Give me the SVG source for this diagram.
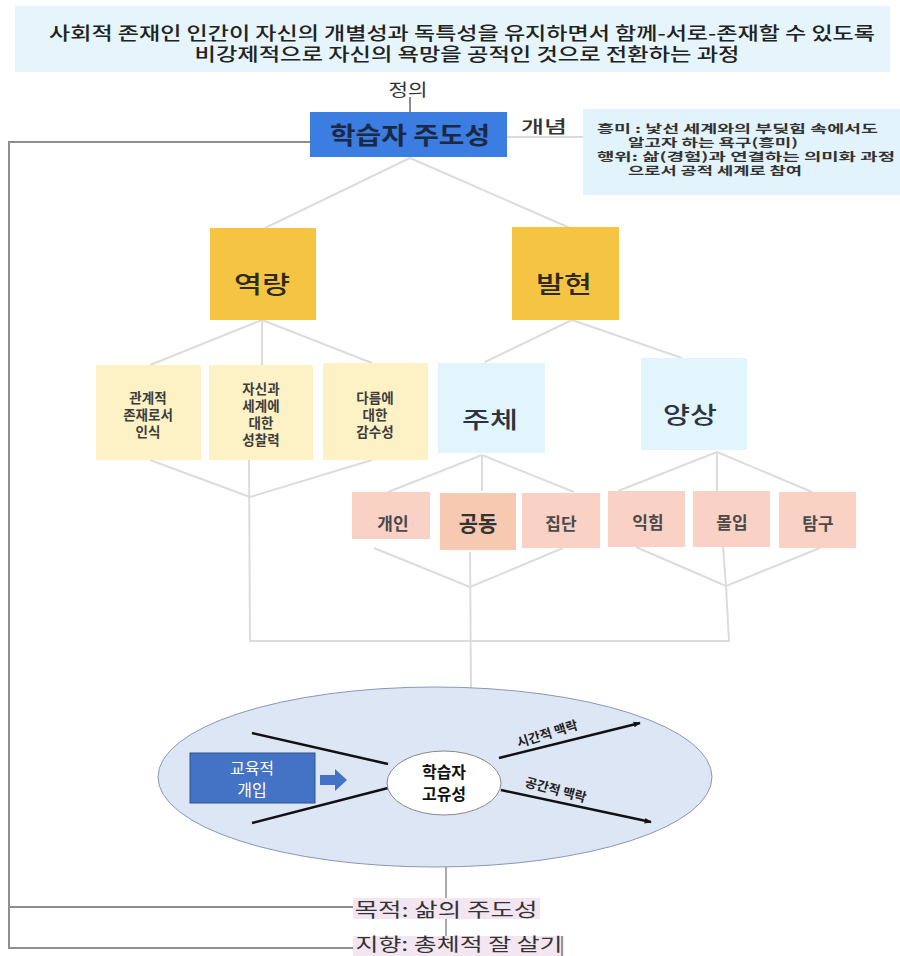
<svg xmlns="http://www.w3.org/2000/svg" width="900" height="956" viewBox="0 0 900 956">
<defs>
<style>
text{font-family:"Noto Sans CJK KR","Noto Sans",sans-serif;dominant-baseline:central;text-anchor:middle}
.conn{stroke:#dcdcdc;stroke-width:2;fill:none}
.dark{stroke:#8e8e8e;stroke-width:2;fill:none}
.blk{stroke:#111;stroke-width:2.5;fill:none}
.y3{fill:#fdf1c6}
.b3{fill:#e3f5fc}
.p4{fill:#f9d1c5}
.t3{font-size:13.5px;font-weight:bold;fill:#3d3d3d}
.t4{font-size:17px;font-weight:bold;fill:#4a4a4a}
.big{font-size:24px;font-weight:500;fill:#2e2a20}
.sub{font-size:23px;font-weight:500;fill:#2b3440}
.ct{font-size:11.5px;font-weight:bold;fill:#333;text-anchor:start}
.lbl{font-size:13px;font-weight:bold;fill:#222}
</style>
<marker id="ah" viewBox="0 0 10 10" refX="9" refY="5" markerWidth="7" markerHeight="7" orient="auto" markerUnits="userSpaceOnUse">
<path d="M0,1 L10,5 L0,9 z" fill="#111"/>
</marker>
</defs>
<rect width="900" height="956" fill="#fff"/>

<g id="connectors">
<line class="dark" x1="410" y1="97" x2="410" y2="113"/>
<line class="conn" x1="505" y1="137" x2="583" y2="137" style="stroke:#cfcfcf;stroke-width:1.5"/>
<polyline class="dark" points="310,142 9,142 9,948 353,948"/>
<line class="dark" x1="9" y1="907" x2="353" y2="907"/>
<line class="conn" x1="410" y1="158" x2="265" y2="228"/>
<line class="conn" x1="410" y1="158" x2="570" y2="228"/>
<line class="conn" x1="262" y1="320" x2="150" y2="365"/>
<line class="conn" x1="262" y1="320" x2="262" y2="365"/>
<line class="conn" x1="262" y1="320" x2="372" y2="363"/>
<line class="conn" x1="572" y1="320" x2="485" y2="362"/>
<line class="conn" x1="572" y1="320" x2="682" y2="358"/>
<line class="conn" x1="150" y1="460" x2="250" y2="497"/>
<line class="conn" x1="372" y1="460" x2="250" y2="497"/>
<polyline class="conn" points="249,460 250,641 729,641 726,586"/>
<line class="conn" x1="482" y1="455" x2="388" y2="492"/>
<line class="conn" x1="482" y1="455" x2="482" y2="493"/>
<line class="conn" x1="482" y1="455" x2="574" y2="492"/>
<line class="conn" x1="717" y1="452" x2="618" y2="491"/>
<line class="conn" x1="717" y1="452" x2="717" y2="491"/>
<line class="conn" x1="717" y1="452" x2="812" y2="492"/>
<line class="conn" x1="374" y1="548" x2="470" y2="587"/>
<line class="conn" x1="563" y1="548" x2="470" y2="587"/>
<line class="conn" x1="470" y1="550" x2="471" y2="690"/>
<line class="conn" x1="636" y1="547" x2="726" y2="586"/>
<line class="conn" x1="820" y1="548" x2="726" y2="586"/>
<line class="conn" x1="723" y1="547" x2="726" y2="586"/>
<line class="dark" x1="446" y1="866" x2="446" y2="898" style="stroke-width:1.5"/>
</g>

<g id="definition">
<rect x="15" y="6" width="875" height="66" fill="#e5f5fb"/>
<text x="462" y="32" style="font-size:18px;font-weight:500;fill:#222" textLength="826" lengthAdjust="spacingAndGlyphs">사회적 존재인 인간이 자신의 개별성과 독특성을 유지하면서 함께-서로-존재할 수 있도록</text>
<text x="467" y="53" style="font-size:18px;font-weight:500;fill:#222" textLength="545" lengthAdjust="spacingAndGlyphs">비강제적으로 자신의 욕망을 공적인 것으로 전환하는 과정</text>
</g>
<g id="label-def"><text x="408" y="88" style="font-size:17px;fill:#333" textLength="39" lengthAdjust="spacingAndGlyphs">정의</text></g>

<g id="learner-agency">
<rect x="310" y="112" width="197" height="45" fill="#3b7de0"/>
<text x="410" y="133" style="font-size:24px;font-weight:bold;fill:#1b2947" textLength="160" lengthAdjust="spacingAndGlyphs">학습자 주도성</text>
</g>
<g id="label-concept"><text x="544" y="125" style="font-size:17px;font-weight:500;fill:#333" textLength="46" lengthAdjust="spacingAndGlyphs">개념</text></g>

<g id="concept">
<rect x="583" y="109" width="317" height="86" fill="#e3f3fb"/>
<text class="ct" x="597" y="128" textLength="281" lengthAdjust="spacingAndGlyphs">흥미 : 낯선 세계와의 부딪힘 속에서도</text>
<text class="ct" x="628" y="142" textLength="170" lengthAdjust="spacingAndGlyphs">알고자 하는 욕구(흥미)</text>
<text class="ct" x="597" y="156" textLength="298" lengthAdjust="spacingAndGlyphs">행위:  삶(경험)과 연결하는 의미화 과정</text>
<text class="ct" x="628" y="170" textLength="174" lengthAdjust="spacingAndGlyphs">으로서  공적 세계로 참여</text>
</g>

<g id="capacity">
<rect x="210" y="228" width="106" height="92" fill="#f5c443"/>
<text class="big" x="262" y="282" textLength="56" lengthAdjust="spacingAndGlyphs">역량</text>
</g>
<g id="manifestation">
<rect x="512" y="227" width="107" height="93" fill="#f5c443"/>
<text class="big" x="564" y="282" textLength="56" lengthAdjust="spacingAndGlyphs">발현</text>
</g>

<g id="relational">
<rect class="y3" x="96" y="365" width="105" height="95"/>
<text class="t3" x="148" y="397">관계적</text>
<text class="t3" x="148" y="414">존재로서</text>
<text class="t3" x="148" y="431">인식</text>
</g>
<g id="reflection">
<rect class="y3" x="209" y="365" width="104" height="95"/>
<text class="t3" x="261" y="388">자신과</text>
<text class="t3" x="261" y="405">세계에</text>
<text class="t3" x="261" y="422">대한</text>
<text class="t3" x="261" y="439">성찰력</text>
</g>
<g id="sensitivity">
<rect class="y3" x="323" y="363" width="105" height="97"/>
<text class="t3" x="375" y="397">다름에</text>
<text class="t3" x="375" y="414">대한</text>
<text class="t3" x="375" y="431">감수성</text>
</g>
<g id="subject">
<rect class="b3" x="438" y="363" width="107" height="90"/>
<text class="sub" x="490" y="418" textLength="56" lengthAdjust="spacingAndGlyphs">주체</text>
</g>
<g id="aspect">
<rect class="b3" x="641" y="358" width="106" height="92"/>
<text class="sub" x="690" y="413" textLength="54" lengthAdjust="spacingAndGlyphs">양상</text>
</g>

<g id="individual"><rect class="p4" x="352" y="492" width="78" height="47"/><text class="t4" x="393" y="522">개인</text></g>
<g id="common"><rect x="439" y="492" width="78" height="59" fill="#f7c9b1" stroke="#fff" stroke-width="2"/><text x="478" y="522" style="font-size:21px;font-weight:bold;fill:#333">공동</text></g>
<g id="group"><rect class="p4" x="522" y="493" width="78" height="55"/><text class="t4" x="561" y="522">집단</text></g>
<g id="practice"><rect class="p4" x="608" y="491" width="77" height="56"/><text class="t4" x="648" y="521">익힘</text></g>
<g id="immersion"><rect class="p4" x="693" y="491" width="77" height="56"/><text class="t4" x="732" y="521">몰입</text></g>
<g id="inquiry"><rect class="p4" x="779" y="492" width="77" height="56"/><text class="t4" x="818" y="522">탐구</text></g>

<g id="context">
<ellipse cx="435" cy="777" rx="277" ry="90" fill="#dce6f4" stroke="#8a98b4" stroke-width="1"/>
<line class="blk" x1="252" y1="733" x2="388" y2="764"/>
<line class="blk" x1="252" y1="823" x2="388" y2="788"/>
<line class="blk" x1="499" y1="758" x2="640" y2="723" marker-end="url(#ah)"/>
<line class="blk" x1="501" y1="790" x2="651" y2="822" marker-end="url(#ah)"/>
<text class="lbl" x="547" y="733" transform="rotate(-17 547 733)">시간적 맥락</text>
<text class="lbl" x="556" y="789" transform="rotate(15 556 789)">공간적 맥락</text>
</g>
<g id="intervention">
<rect x="190" y="753" width="125" height="50" fill="#4472c4" stroke="#2f528f" stroke-width="1"/>
<text x="252" y="767" style="font-size:16px;fill:#fff">교육적</text>
<text x="252" y="789" style="font-size:16px;fill:#fff">개입</text>
<polygon points="320,775 335,775 335,769 347,780 335,791 335,785 320,785" fill="#4472c4"/>
</g>
<g id="uniqueness">
<ellipse cx="444" cy="783" rx="57" ry="32" fill="#fff" stroke="#888" stroke-width="1"/>
<text x="444" y="771" style="font-size:16px;font-weight:bold;fill:#111">학습자</text>
<text x="444" y="793" style="font-size:16px;font-weight:bold;fill:#111">고유성</text>
</g>

<g id="purpose">
<rect x="353" y="898" width="187" height="21" fill="#f4e6f1"/>
<text x="446" y="908" style="font-size:19px;fill:#333" textLength="183" lengthAdjust="spacingAndGlyphs">목적: 삶의 주도성</text>
</g>
<line class="dark" x1="446" y1="919" x2="446" y2="940" style="stroke-width:1.5"/>
<g id="orientation">
<rect x="353" y="936" width="211" height="20" fill="#f4e6f1"/>
<text x="459" y="943" style="font-size:18px;fill:#333" textLength="207" lengthAdjust="spacingAndGlyphs">지향: 총체적 잘 살기</text>
<line x1="562" y1="936" x2="562" y2="956" stroke="#999" stroke-width="2"/>
</g>
</svg>
